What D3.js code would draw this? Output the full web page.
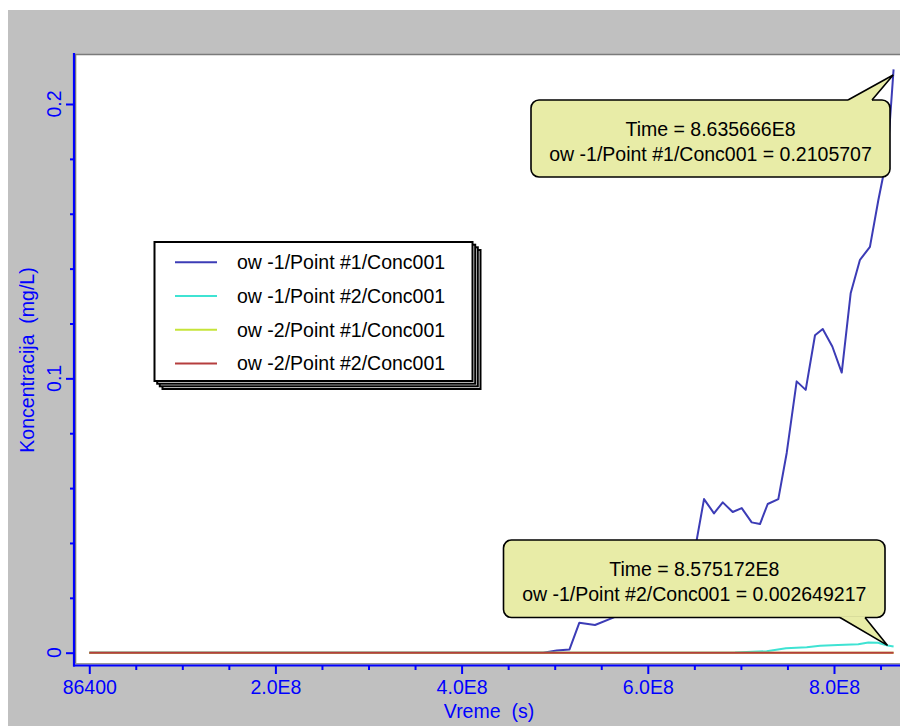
<!DOCTYPE html>
<html>
<head>
<meta charset="utf-8">
<script src="https://cdn.jsdelivr.net/npm/d3@7"></script>
<style>
  html, body { margin: 0; padding: 0; background: #fff; }
  svg { display: block; font-family: "Liberation Sans", Arial, Helvetica, sans-serif; }
</style>
</head>
<body>
<svg id="chart" width="900" height="726"></svg>
<script>
// Series labels and colours
const seriesNames = [
  "ow -1/Point #1/Conc001",
  "ow -1/Point #2/Conc001",
  "ow -2/Point #1/Conc001",
  "ow -2/Point #2/Conc001"
];
const seriesColors = ["#3c3cb6", "#3fe3d3", "#c6e43a", "#b53e3e"];

// ow-1 / Point #1 : time (s) and concentration (mg/L)
const ow1p1Time = [86400, 4.877e8, 5.021e8, 5.159e8, 5.264e8, 5.433e8, 5.629e8, 5.733e8, 5.830e8,
  5.926e8, 6.024e8, 6.131e8, 6.228e8, 6.325e8, 6.422e8, 6.502e8, 6.604e8, 6.711e8, 6.805e8,
  6.912e8, 7.009e8, 7.116e8, 7.205e8, 7.288e8, 7.402e8, 7.492e8, 7.599e8, 7.696e8, 7.796e8,
  7.879e8, 7.982e8, 8.083e8, 8.179e8, 8.279e8, 8.386e8, 8.476e8, 8.575172e8, 8.64e8];
const ow1p1Conc = [0, 0, 0.0008, 0.0012, 0.0109, 0.0101, 0.0128, 0.0148, 0.0163,
  0.0174, 0.0196, 0.0218, 0.0247, 0.0280, 0.0316, 0.0367, 0.0560, 0.0508, 0.0548,
  0.0513, 0.0527, 0.0475, 0.0469, 0.0542, 0.0560, 0.0728, 0.0989, 0.0958, 0.1157,
  0.1180, 0.1116, 0.1021, 0.1310, 0.1432, 0.1479, 0.1649, 0.1817, 0.21264];

// ow-1 / Point #2
const ow1p2Time = [86400, 6.827e8, 6.937e8, 7.277e8, 7.484e8, 7.707e8, 7.850e8, 8.043e8,
  8.261e8, 8.369e8, 8.473e8, 8.575172e8, 8.64e8];
const ow1p2Conc = [0, 0, 0.00004, 0.00055, 0.00164, 0.00197, 0.00252, 0.00277,
  0.00310, 0.00372, 0.0036, 0.002649217, 0.0023];

// ow-2 / Point #1 and Point #2 stay at zero
const ow2p1Time = [86400, 8.64e8];
const ow2p1Conc = [0, 0];
const ow2p2Time = [86400, 8.64e8];
const ow2p2Conc = [0, 0];

// Axis ticks
const xMajorTicks = [86400, 2e8, 4e8, 6e8, 8e8];
const xMajorLabels = ["86400", "2.0E8", "4.0E8", "6.0E8", "8.0E8"];
const xMinorTicks = [5e7, 1e8, 1.5e8, 2.5e8, 3e8, 3.5e8, 4.5e8, 5e8, 5.5e8, 6.5e8, 7e8, 7.5e8, 8.5e8];
const yMajorTicks = [0, 0.1, 0.2];
const yMajorLabels = ["0", "0.1", "0.2"];
const yMinorTicks = [0.02, 0.04, 0.06, 0.08, 0.12, 0.14, 0.16, 0.18];

// Hover read-outs
const probes = [
  { series: 0, time: 8.635666e8, value: 0.2105707, timeText: "8.635666E8", valueText: "0.2105707" },
  { series: 1, time: 8.575172e8, value: 0.002649217, timeText: "8.575172E8", valueText: "0.002649217" }
];

const series = [
  { t: ow1p1Time, v: ow1p1Conc },
  { t: ow1p2Time, v: ow1p2Conc },
  { t: ow2p1Time, v: ow2p1Conc },
  { t: ow2p2Time, v: ow2p2Conc }
];

const blue = "#0000ff";
const fontSize = 19.5;
const svg = d3.select("#chart");

// Frame geometry
const plotL = 76, plotT = 55, plotR = 903, plotB = 663;
const axisX = 74, axisY = 665.5;

const x = d3.scaleLinear().domain([0, 8e8]).range([89.2, 834]);
const y = d3.scaleLinear().domain([0, 0.2]).range([652.7, 104]);

// Window background
svg.append("rect").attr("x", 8).attr("y", 10).attr("width", 892).attr("height", 716).attr("fill", "#c0c0c0");

// Plot area
svg.append("rect").attr("x", plotL).attr("y", plotT).attr("width", plotR - plotL).attr("height", plotB - plotT)
  .attr("fill", "#fff");
svg.append("path")
  .attr("d", `M${plotL - 0.5},${plotB + 0.5}V${plotT - 0.5}H${plotR}`)
  .attr("fill", "none").attr("stroke", "#7a7a7a").attr("stroke-width", 1.6);
svg.append("line").attr("x1", plotL).attr("x2", plotR).attr("y1", plotB + 0.6).attr("y2", plotB + 0.6)
  .attr("stroke", "#9a9a9a").attr("stroke-width", 1.2);

svg.append("clipPath").attr("id", "plotClip")
  .append("rect").attr("x", plotL).attr("y", plotT).attr("width", plotR - plotL).attr("height", plotB - plotT);

// Series lines
const line = d3.line().x(d => x(d[0])).y(d => y(d[1]));
const lines = svg.append("g").attr("clip-path", "url(#plotClip)");
series.forEach((s, i) => {
  const pts = s.t.map((t, j) => [t, s.v[j]]);
  lines.append("path").datum(pts).attr("d", line)
    .attr("fill", "none").attr("stroke", seriesColors[i]).attr("stroke-width", 2)
    .attr("stroke-linejoin", "round");
});

// Y axis
const yAxisG = svg.append("g").attr("transform", `translate(${axisX},0)`);
yAxisG.call(d3.axisLeft(y).tickValues(yMinorTicks).tickSize(4).tickFormat(""));
yAxisG.call(g => g.select(".domain").remove());
const yMajG = svg.append("g").attr("transform", `translate(${axisX},0)`);
yMajG.call(d3.axisLeft(y).tickValues(yMajorTicks).tickSize(8).tickFormat(""));
yMajG.call(g => g.select(".domain").remove());
svg.selectAll(".tick line").attr("stroke", blue).attr("stroke-width", 2);
svg.append("line").attr("x1", axisX).attr("x2", axisX).attr("y1", 53).attr("y2", axisY + 1)
  .attr("stroke", blue).attr("stroke-width", 2.2);
yMajorTicks.forEach((v, i) => {
  svg.append("text").attr("transform", `translate(61,${y(v)}) rotate(-90)`)
    .attr("text-anchor", "middle").attr("fill", blue).attr("font-size", fontSize)
    .text(yMajorLabels[i]);
});

// X axis
const xMinG = svg.append("g").attr("transform", `translate(0,${axisY})`);
xMinG.call(d3.axisBottom(x).tickValues(xMinorTicks).tickSize(4.5).tickFormat(""));
xMinG.call(g => g.select(".domain").remove());
const xMajG = svg.append("g").attr("transform", `translate(0,${axisY})`);
xMajG.call(d3.axisBottom(x).tickValues(xMajorTicks).tickSize(8.5).tickPadding(6)
  .tickFormat((d, i) => xMajorLabels[i]));
xMajG.call(g => g.select(".domain").remove());
svg.selectAll(".tick line").attr("stroke", blue).attr("stroke-width", 2);
xMajG.selectAll("text").attr("fill", blue).attr("font-size", fontSize)
  .attr("font-family", "'Liberation Sans', Arial, Helvetica, sans-serif");
svg.append("line").attr("x1", axisX - 1).attr("x2", 900).attr("y1", axisY).attr("y2", axisY)
  .attr("stroke", blue).attr("stroke-width", 2.2);

// Axis titles
svg.append("text").attr("x", 489).attr("y", 718).attr("text-anchor", "middle")
  .attr("fill", blue).attr("font-size", fontSize).style("white-space", "pre")
  .text("Vreme  (s)");
svg.append("text").attr("transform", "translate(34,360) rotate(-90)").attr("text-anchor", "middle")
  .attr("fill", blue).attr("font-size", fontSize).style("white-space", "pre")
  .text("Koncentracija  (mg/L)");

// Legend with stacked shadow
const lg = { x: 154.5, y: 242, w: 318, h: 139 };
[8, 5.3, 2.7].forEach(o => {
  svg.append("rect").attr("x", lg.x + o).attr("y", lg.y + o).attr("width", lg.w).attr("height", lg.h)
    .attr("fill", "#fff").attr("stroke", "#000").attr("stroke-width", 2);
});
svg.append("rect").attr("x", lg.x).attr("y", lg.y).attr("width", lg.w).attr("height", lg.h)
  .attr("fill", "#fff").attr("stroke", "#000").attr("stroke-width", 2);
seriesNames.forEach((name, i) => {
  const ry = 262.3 + i * 33.7;
  svg.append("line").attr("x1", 175).attr("x2", 217).attr("y1", ry).attr("y2", ry)
    .attr("stroke", seriesColors[i]).attr("stroke-width", 2);
  svg.append("text").attr("x", 237).attr("y", ry).attr("dy", "0.36em")
    .attr("font-size", fontSize).attr("fill", "#000").text(name);
});

// Read-out callouts
const callouts = [
  { box: { x: 531, y: 100, w: 359, h: 77 }, base: [848, 872], edge: "top", lines: [122.5, 147.5] },
  { box: { x: 503.5, y: 540, w: 381.5, h: 77.5 }, base: [840, 865], edge: "bottom", lines: [562, 587.5] }
];
const calloutFill = "#e8eca7";
probes.forEach((p, i) => {
  const c = callouts[i];
  const b = c.box;
  const tipX = x(p.time), tipY = y(p.value);
  const g = svg.append("g");
  g.append("rect").attr("x", b.x).attr("y", b.y).attr("width", b.w).attr("height", b.h)
    .attr("rx", 8).attr("ry", 8).attr("fill", calloutFill).attr("stroke", "#000").attr("stroke-width", 1.6);
  const ey = c.edge === "top" ? b.y : b.y + b.h;
  const inner = c.edge === "top" ? ey + 1.2 : ey - 1.2;
  g.append("path")
    .attr("d", `M${c.base[0]},${inner}L${c.base[0]},${ey}L${tipX},${tipY}L${c.base[1]},${ey}L${c.base[1]},${inner}Z`)
    .attr("fill", calloutFill).attr("stroke", "none");
  g.append("path")
    .attr("d", `M${c.base[0]},${ey}L${tipX},${tipY}L${c.base[1]},${ey}`)
    .attr("fill", "none").attr("stroke", "#000").attr("stroke-width", 1.6).attr("stroke-linejoin", "miter");
  const cx = b.x + b.w / 2;
  g.append("text").attr("x", cx).attr("y", c.lines[0]).attr("dy", "0.71em").attr("text-anchor", "middle")
    .attr("font-size", fontSize).attr("fill", "#000").text(`Time = ${p.timeText}`);
  g.append("text").attr("x", cx).attr("y", c.lines[1]).attr("dy", "0.71em").attr("text-anchor", "middle")
    .attr("font-size", fontSize).attr("fill", "#000").text(`${seriesNames[p.series]} = ${p.valueText}`);
});
</script>
</body>
</html>
